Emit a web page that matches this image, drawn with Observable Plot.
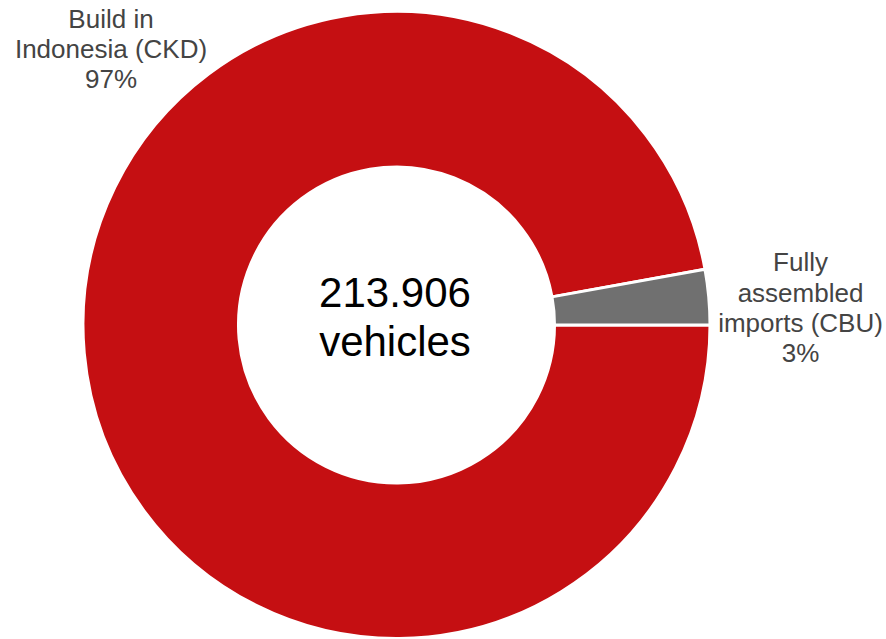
<!DOCTYPE html>
<html>
<head>
<meta charset="utf-8">
<script src="https://cdn.jsdelivr.net/npm/d3@7"></script>
<script src="https://cdn.jsdelivr.net/npm/@observablehq/plot@0.6"></script>
<style>
  html, body { margin: 0; padding: 0; background: #fff; }
  #chart svg { display: block; }
</style>
</head>
<body>
<div id="chart"></div>
<script>
// ---- data ----
const categories = ["Build in\nIndonesia (CKD)", "Fully\nassembled\nimports (CBU)"];
const values = [207810, 6096];
const percentLabels = ["97%", "3%"];
const colors = ["#c50f12", "#707070"];
const centerLines = ["213.906", "vehicles"];

// ---- layout ----
const W = 886, H = 639;
const cx = 396.5, cy = 325;
const outerR = 313.5, innerR = 158;

const rows = categories.map((c, i) => ({category: c, value: values[i], pct: percentLabels[i]}));
const pie = d3.pie().sort(null).value(d => d.value)
  .startAngle(Math.PI / 2).endAngle(Math.PI / 2 + 2 * Math.PI);
const arcs = pie(rows);
const arcGen = d3.arc().innerRadius(innerR).outerRadius(outerR);
const colorScale = d3.scaleOrdinal().domain(categories).range(colors);

function donut(index, scales, values, dimensions) {
  const g = d3.create("svg:g").attr("transform", `translate(${cx},${cy})`);
  g.selectAll("path").data(arcs).join("path")
    .attr("d", arcGen)
    .attr("fill", d => colorScale(d.data.category))
    .attr("stroke", "#fff")
    .attr("stroke-width", 3)
    .attr("stroke-linejoin", "miter");
  return g.node();
}

const font = "'Liberation Sans', Arial, Helvetica, sans-serif";
const labelText = rows.map(d => d.category + "\n" + d.pct);

const chart = Plot.plot({
  width: W,
  height: H,
  margin: 0,
  style: {fontFamily: font, background: "#fff"},
  marks: [
    donut,
    Plot.text([centerLines.join("\n")], {
      text: d => d, frameAnchor: "middle", dx: cx - W / 2 - 2, dy: 315 - H / 2,
      fontSize: 42, lineHeight: 1.19, fill: "#000", lineAnchor: "middle"
    }),
    Plot.text([labelText[0]], {
      text: d => d, frameAnchor: "middle", dx: 110.5 - W / 2, dy: 48 - H / 2,
      fontSize: 26, lineHeight: 1.16, fill: "#444", lineAnchor: "middle"
    }),
    Plot.text([labelText[1]], {
      text: d => d, frameAnchor: "middle", dx: 800 - W / 2, dy: 306.5 - H / 2,
      fontSize: 26, lineHeight: 1.16, fill: "#444", lineAnchor: "middle"
    })
  ]
});
document.getElementById("chart").appendChild(chart);
</script>
</body>
</html>
